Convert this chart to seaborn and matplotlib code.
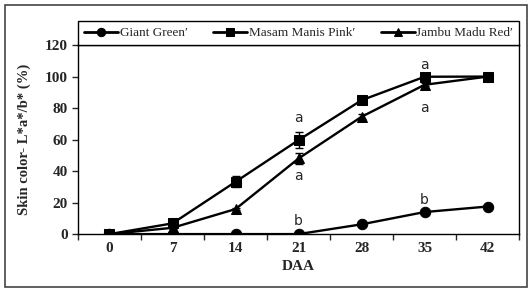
import matplotlib
matplotlib.use("Agg")
import matplotlib.pyplot as plt
import seaborn as sns
import pandas as pd
import numpy as np
from matplotlib.patches import Rectangle

sns.set_style("white")
plt.rcParams['font.family'] = ['Liberation Serif', 'DejaVu Serif']

# data
days = ['0', '7', '14', '21', '28', '35', '42']
cultivars = ["Giant Green\u2032", "Masam Manis Pink\u2032", "Jambu Madu Red\u2032"]
giant_green = [0, 0, 0, 0, 6.2, 14.0, 17.5]
masam_manis = [0, 6.8, 33.2, 59.7, 85.0, 99.9, 100]
jambu_madu = [0, 4.0, 15.9, 48.0, 74.5, 94.8, 100]
err_green = [0, 0, 0, 0, 0.5, 0.8, 0.5]
err_masam = [0, 0.8, 3.5, 5.0, 1.0, 0.8, 0.5]
err_jambu = [0, 0.5, 0.8, 3.2, 1.5, 1.0, 0.5]
# significance letters: (day index, y, text)
letters = [(3, 74, 'a'), (3, 37, 'a'), (3, 8.5, 'b'),
           (5, 107.5, 'a'), (5, 80, 'a'), (5, 21.5, 'b')]

df = pd.DataFrame({
    'idx': list(range(len(days))) * 3,
    'value': giant_green + masam_manis + jambu_madu,
    'cultivar': np.repeat(cultivars, len(days)),
})

fig = plt.figure(figsize=(5.29, 2.89), dpi=100)
ax = fig.add_axes([0.1474, 0.19, 0.834, 0.654])

sns.lineplot(data=df, x='idx', y='value', hue='cultivar', style='cultivar',
             markers={cultivars[0]: 'o', cultivars[1]: 's', cultivars[2]: '^'},
             dashes=False, palette=['black'] * 3, linewidth=1.7,
             markersize=7.5, markeredgecolor='black', ax=ax)

x = np.arange(len(days))
for vals, errs in [(giant_green, err_green), (masam_manis, err_masam), (jambu_madu, err_jambu)]:
    ax.errorbar(x, vals, yerr=errs, fmt='none', ecolor='black', elinewidth=1, capsize=3)

for i, y, t in letters:
    ax.text(i, y, t, ha='center', va='center', fontsize=10, family='DejaVu Sans')

ax.set_xlim(-0.5, 6.5)
ax.set_ylim(0, 120)
ax.set_yticks(range(0, 121, 20))
ax.set_xticks(x)
ax.set_xticklabels(days, fontsize=11, fontweight='bold')
ax.set_xticks(np.arange(-0.5, 7, 1), minor=True)
ax.tick_params(axis='x', which='major', length=0, pad=6)
ax.tick_params(axis='x', which='minor', length=4, width=1, direction='out', bottom=True)
ax.tick_params(axis='y', length=4, width=1, direction='out', left=True, labelsize=11)
for lab in ax.get_yticklabels():
    lab.set_fontweight('bold')
ax.set_xlabel('DAA', fontsize=11, fontweight='bold', labelpad=3)
ax.set_ylabel('Skin color- L*a*/b* (%)', fontsize=10.5, fontweight='bold', labelpad=10)
for s in ax.spines.values():
    s.set_color('black')
    s.set_linewidth(1)

handles, labels = ax.get_legend_handles_labels()
leg = ax.legend(handles, labels, loc='lower left', bbox_to_anchor=(0, 1, 1, 0.159),
                mode='expand', ncol=3, borderaxespad=0, fancybox=False,
                edgecolor='black', framealpha=1, fontsize=9.5, handlelength=2.6,
                handletextpad=0.1, columnspacing=1.0, borderpad=0.45)
leg.get_frame().set_linewidth(1)
for h in leg.legend_handles:
    h.set_markersize(6)
    h.set_linewidth(2)

fig.patches.append(Rectangle((5 / 529, 2 / 289), 522 / 529, 282 / 289, transform=fig.transFigure,
                             fill=False, edgecolor='#444444', linewidth=1.2))

fig.savefig('out.png', dpi=100)
